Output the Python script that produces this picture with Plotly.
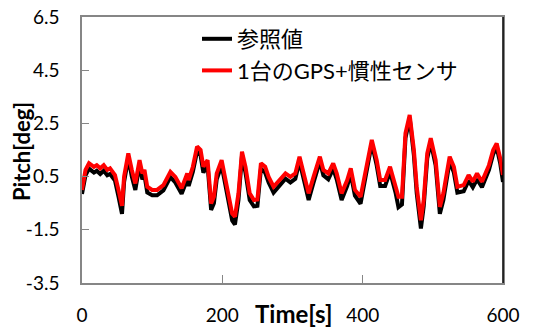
import plotly.graph_objects as go

# Time [s]
t = [0, 5, 10, 17, 21, 26, 31, 36, 40, 47, 52, 55, 57, 60, 66, 71, 76, 82, 86, 89, 93,
     100, 107, 116, 126, 133, 142, 150, 152, 158, 164, 169, 173, 179, 184, 188, 192,
     199, 203, 209, 214, 218, 223, 228, 233, 239, 245, 250, 255, 261, 266, 273, 280,
     290, 297, 304, 310, 316, 323, 330, 339, 344, 351, 358, 363, 370, 378, 383, 389,
     397, 404, 413, 420, 425, 432, 439, 447, 451, 456, 461, 467, 473, 477, 483, 487,
     492, 497, 504, 510, 515, 524, 530, 535, 544, 551, 557, 563, 570, 580, 586, 591,
     596, 600]

# 1台のGPS+慣性センサ (red)
pitch_gps = [0.00, 0.75, 1.00, 0.87, 0.93, 0.81, 0.93, 0.75, 0.81, 0.56, 0.00, -0.38,
             -0.60, 0.50, 1.37, 0.75, 0.24, 1.12, 0.62, 0.75, 0.12,
             0.00, 0.00, 0.18, 0.68, 0.49, 0.06, 0.62, 0.37, 0.87, 1.63, 1.50, 0.87,
             1.12, -0.51, -0.26, 0.62,
             1.12, 0.62, -0.13, -0.89, -1.01, -0.13, 1.44, 0.87, -0.13, -0.38, -0.36,
             1.00, 0.87, 0.49, 0.12, 0.31,
             0.62, 0.49, 0.62, 1.25, 0.62, -0.13, 0.49, 1.25, 0.75, 0.62, 1.00, 0.62,
             -0.13, 0.37, 0.81, 0.00,
             -0.26, 0.75, 1.88, 1.12, 0.37, 0.37, 0.87, 0.12, -0.26, -0.26, 2.13, 2.82,
             1.50, 0.12, -1.14, -0.38,
             1.37, 1.94, 1.12, -0.64, -0.13, 1.25, 0.87, 0.12, 0.18, 0.56, 0.31, 0.62,
             0.31, 0.93, 1.50, 1.75,
             1.19, 0.56]

# 参照値 (black)
pitch_ref = [-0.15, 0.55, 0.80, 0.65, 0.72, 0.60, 0.72, 0.55, 0.60, 0.35, -0.25, -0.65,
             -0.90, 0.30, 1.20, 0.50, 0.00, 0.95, 0.40, 0.55, -0.10,
             -0.20, -0.20, -0.02, 0.48, 0.28, -0.15, 0.40, 0.15, 0.68, 1.45, 1.30, 0.65,
             0.92, -0.75, -0.50, 0.40,
             0.92, 0.40, -0.38, -1.15, -1.30, -0.38, 1.28, 0.65, -0.38, -0.62, -0.60,
             0.80, 0.65, 0.28, -0.10, 0.10,
             0.42, 0.28, 0.42, 1.08, 0.40, -0.38, 0.28, 1.08, 0.55, 0.40, 0.80, 0.40,
             -0.38, 0.15, 0.60, -0.22,
             -0.52, 0.55, 1.75, 0.92, 0.15, 0.15, 0.68, -0.12, -0.65, -0.55, 1.95, 2.70,
             1.30, -0.12, -1.45, -0.62,
             1.18, 1.80, 0.92, -0.90, -0.38, 1.08, 0.65, -0.10, -0.05, 0.35, 0.10, 0.40,
             0.10, 0.75, 1.35, 1.60,
             1.00, 0.30]

x_ticks = [0, 200, 400, 600]
y_ticks = [-3.5, -1.5, 0.5, 2.5, 4.5, 6.5]

FONT = "Lato, 'Noto Sans CJK JP', sans-serif"
GREY = "#868686"

fig = go.Figure()
fig.add_trace(go.Scatter(x=t, y=pitch_ref, mode="lines", name="参照値",
                         line=dict(color="#000000", width=4)))
fig.add_trace(go.Scatter(x=t, y=pitch_gps, mode="lines", name="1台のGPS+慣性センサ",
                         line=dict(color="#FF0000", width=4)))

fig.update_layout(
    width=542, height=327,
    margin=dict(l=82, r=39, t=17, b=44, autoexpand=False),
    paper_bgcolor="white", plot_bgcolor="white",
    font=dict(family=FONT, size=19, color="#000000"),
    showlegend=True,
    legend=dict(x=197 / 542, y=1 - 18 / 327, xref="container", yref="container",
                xanchor="left", yanchor="top",
                bgcolor="rgba(0,0,0,0)", font=dict(size=22, family=FONT),
                tracegroupgap=0, itemwidth=30),
    xaxis=dict(range=[0, 600], tickvals=x_ticks, ticks="inside", ticklen=8,
               tickcolor=GREY, showline=True, linecolor=GREY, linewidth=1.5,
               mirror=True, showgrid=False, zeroline=False, automargin=False,
               ticklabelstandoff=14, tickfont=dict(size=19)),
    yaxis=dict(range=[-3.5, 6.5], tickvals=y_ticks,
               ticktext=[f"{v:.1f}" for v in y_ticks],
               ticks="inside", ticklen=7, tickcolor=GREY, showline=True,
               linecolor=GREY, linewidth=1.5, mirror=True, showgrid=False,
               zeroline=False, automargin=False,
               ticklabelstandoff=17, tickfont=dict(size=19)),
    shapes=[dict(type="line", xref="x domain", yref="y domain", x0=1, x1=1, y0=0, y1=1,
                 line=dict(color="#000000", width=1.5))],
    annotations=[
        dict(text="<b>Time[s]</b>", xref="paper", yref="paper", x=0.503, y=-0.113,
             xanchor="center", yanchor="middle", showarrow=False,
             font=dict(size=24, family=FONT)),
        dict(text="<b>Pitch[deg]</b>", xref="paper", yref="paper", x=-0.1425, y=0.4925,
             xanchor="center", yanchor="middle", showarrow=False, textangle=-90,
             font=dict(size=22, family=FONT)),
    ],
)

fig.write_html("out.html")
